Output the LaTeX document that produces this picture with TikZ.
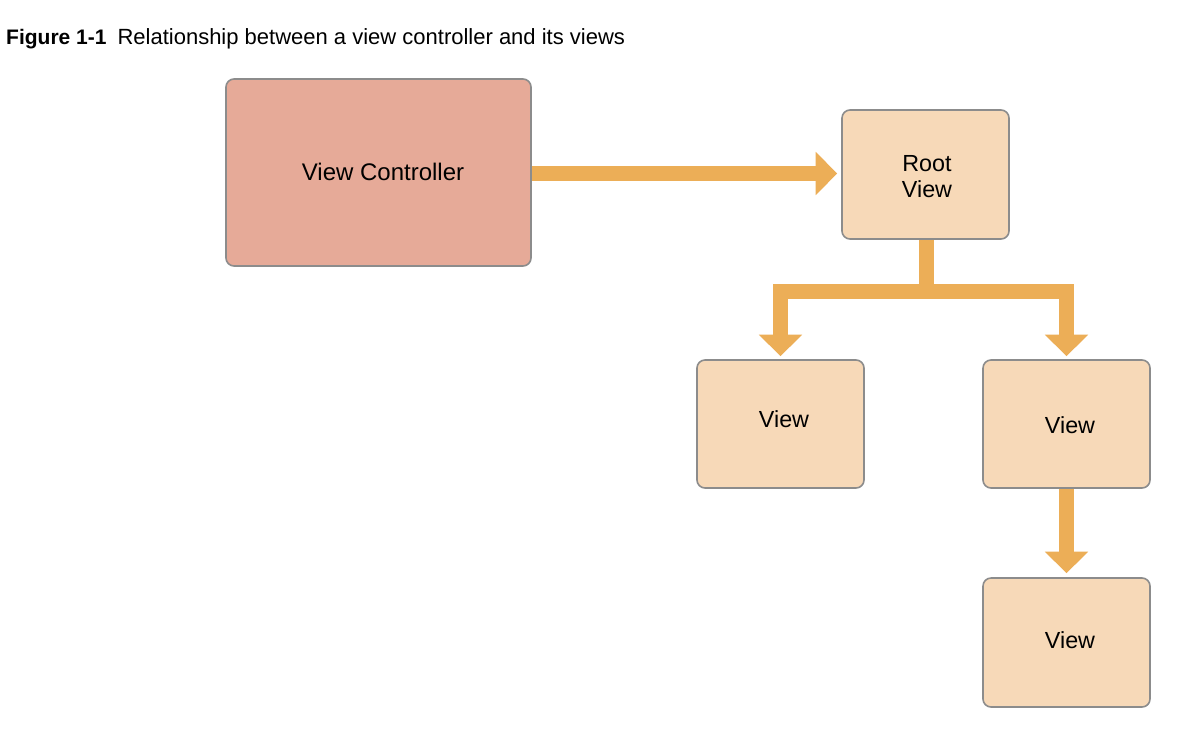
\documentclass[tikz,border=0pt]{standalone}
\usepackage{fontspec}
\setmainfont{Liberation Sans}
\usetikzlibrary{arrows.meta}
\definecolor{vcfill}{HTML}{E6AA98}
\definecolor{vfill}{HTML}{F7D9B8}
\definecolor{bordergray}{HTML}{8C8C8C}
\definecolor{arrowc}{HTML}{ECAE57}
\begin{document}
\begin{tikzpicture}[x=1pt,y=-1pt,
  box/.style={draw=bordergray, line width=1.6pt, rounded corners=8pt, fill=vfill,
    inner sep=0pt, align=center},
  lbl/.style={inner sep=0pt, align=center, font=\fontsize{23.3}{26.5}\selectfont},
  conn/.style={draw=arrowc, line width=15pt, line cap=butt, line join=miter,
    -{Triangle[width=42pt,length=21.5pt]}}]
\useasboundingbox (0,0) rectangle (1196,748);
\fill[white] (0,0) rectangle (1196,748);
\node[anchor=base west, inner sep=0pt, font=\fontsize{22}{26}\selectfont] (title) at (6,44)
  {{\fontsize{21}{26}\selectfont\textbf{Figure 1-1}}\hspace{11pt}Relationship between a view controller and its views};
\node[box, fill=vcfill, minimum width=305pt, minimum height=187pt] (vc) at (378.5,172.5) {};
\node[lbl, font=\fontsize{24}{27}\selectfont] (vct) at (383,172) {View Controller};
\node[box, minimum width=167pt, minimum height=129pt] (root) at (925.5,174.5) {};
\node[lbl] (roott) at (927,176.5) {Root\\View};
\node[box, minimum width=167pt, minimum height=128pt] (v1) at (780.5,424) {};
\node[lbl] (v1t) at (784,419) {View};
\node[box, minimum width=167pt, minimum height=128pt] (v2) at (1066.5,424) {};
\node[lbl] (v2t) at (1070,425) {View};
\node[box, minimum width=167pt, minimum height=129pt] (v3) at (1066.5,642.5) {};
\node[lbl] (v3t) at (1070,640) {View};
\coordinate (j) at (926,291);
\draw[conn, shorten >=4pt] (vc.east |- 0,173.5) -- (root.west |- 0,173.5);
\draw[conn, shorten >=3pt] (root.south -| j) -- (j) -| (v1.north);
\draw[conn, shorten >=3pt] (root.south -| j) -- (j) -| (v2.north);
\draw[conn, shorten >=4pt] (v2.south) -- (v3.north);
\end{tikzpicture}
\end{document}
